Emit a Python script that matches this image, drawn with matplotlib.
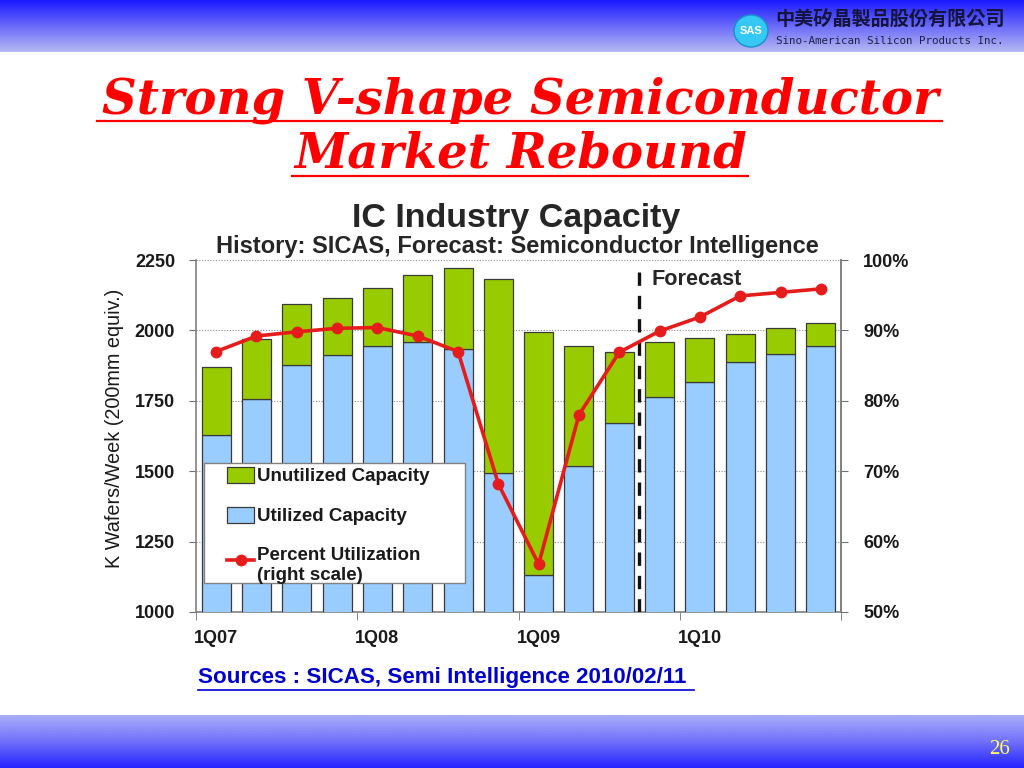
import numpy as np
import matplotlib
matplotlib.use("Agg")
import matplotlib.pyplot as plt
from matplotlib.patches import Patch, Ellipse, Rectangle
from matplotlib.lines import Line2D
from matplotlib.legend_handler import HandlerLine2D
from matplotlib.colors import LinearSegmentedColormap

# ---------------- data ----------------
quarters = ['1Q07', '2Q07', '3Q07', '4Q07', '1Q08', '2Q08', '3Q08', '4Q08',
            '1Q09', '2Q09', '3Q09', '4Q09', '1Q10', '2Q10', '3Q10', '4Q10']
utilized = [1629, 1757, 1878, 1912, 1945, 1960, 1935, 1493,
            1130, 1520, 1672, 1762, 1816, 1888, 1915, 1946]
unutilized = [240, 212, 215, 204, 204, 236, 285, 691,
              863, 426, 252, 196, 157, 100, 92, 81]
pct_util = [87.0, 89.2, 89.8, 90.3, 90.4, 89.2, 87.0, 68.2,
            56.8, 78.0, 86.9, 89.9, 91.9, 94.9, 95.4, 95.9]
left_ticks = [1000, 1250, 1500, 1750, 2000, 2250]
right_ticks = [50, 60, 70, 80, 90, 100]
xlabels_shown = ['1Q07', '1Q08', '1Q09', '1Q10']
forecast_start = 10.5

W, H = 1024, 768
fig = plt.figure(figsize=(W / 100, H / 100), dpi=100)
fig.patch.set_facecolor('white')

def fx(px):
    return px / W

def fy(py):
    return 1 - py / H

# ---------------- header / footer gradients ----------------
hdr = fig.add_axes([0, fy(52), 1, 52 / H], zorder=0)
cm_h = LinearSegmentedColormap.from_list('h', ['#1A1AFF', '#6A6AFA', '#B6B8F2'])
hdr.imshow(np.linspace(0, 1, 100).reshape(-1, 1), aspect='auto', cmap=cm_h,
           extent=[0, 1, 0, 1])
hdr.axis('off')

ftr = fig.add_axes([0, 0, 1, 53 / H], zorder=0)
cm_f = LinearSegmentedColormap.from_list('f', ['#AAADFA', '#7070FA', '#2424FF'])
ftr.imshow(np.linspace(0, 1, 100).reshape(-1, 1), aspect='auto', cmap=cm_f,
           extent=[0, 1, 0, 1])
ftr.axis('off')

# overlay for decorations (pixel coordinates)
deco = fig.add_axes([0, 0, 1, 1], zorder=1)
deco.set_xlim(0, W)
deco.set_ylim(H, 0)
deco.axis('off')
deco.patch.set_alpha(0)

# logo
deco.add_patch(Ellipse((751, 31), 34, 32, facecolor='#35C8F5', edgecolor='#1A90C8', lw=1))
deco.text(751, 31, 'SAS', color='white', fontsize=8, fontweight='bold',
          ha='center', va='center', family='Liberation Sans')
deco.text(775, 19, '中美矽晶製品股份有限公司', fontsize=13.8, color='#14143C',
          fontweight='bold', ha='left', va='center',
          family=['Noto Sans CJK TC', 'DejaVu Sans'])
deco.text(776, 41, 'Sino-American Silicon Products Inc.', fontsize=7.8, color='#202040',
          ha='left', va='center', family='DejaVu Sans Mono')

# main title
deco.text(520, 114, 'Strong V-shape Semiconductor', color='#FF0000', fontsize=34.7,
          fontweight='bold', fontstyle='italic', family='DejaVu Serif',
          ha='center', va='baseline')
deco.text(521, 168, 'Market Rebound', color='#FF0000', fontsize=34.7,
          fontweight='bold', fontstyle='italic', family='DejaVu Serif',
          ha='center', va='baseline')
deco.plot([97, 942], [121, 121], color='#FF0000', lw=1.6)
deco.plot([292, 748], [176, 176], color='#FF0000', lw=1.6)

# chart titles
deco.text(516, 219, 'IC Industry Capacity', fontsize=24.5, fontweight='bold',
          color='#262626', ha='center', va='center', family='Liberation Sans')
deco.text(517, 246, 'History: SICAS, Forecast: Semiconductor Intelligence', fontsize=17,
          fontweight='bold', color='#262626', ha='center', va='center',
          family='Liberation Sans')
deco.text(115, 428, 'K Wafers/Week (200mm equiv.)', fontsize=14.3, rotation=90,
          color='#1A1A1A', ha='center', va='center', family='Liberation Sans')

# sources
deco.text(198, 678, 'Sources : SICAS, Semi Intelligence 2010/02/11', fontsize=16.1,
          fontweight='bold', color='#0000CC', ha='left', va='center',
          family='Liberation Sans')
deco.plot([198, 694], [690, 690], color='#0000CC', lw=1.2)

# page number
deco.text(1000, 750, '26', fontsize=15, color='#FFFF55', ha='center', va='center',
          family='Liberation Serif')

# ---------------- chart ----------------
ax = fig.add_axes([fx(196), fy(612), fx(841) - fx(196), (612 - 260) / H], zorder=2)
ax.patch.set_facecolor('white')
x = np.arange(len(quarters))
green = '#99CC00'
blue = '#99CCFF'
edge = '#3A3A3A'
ax.bar(x, utilized, width=0.72, color=blue, edgecolor=edge, linewidth=0.9, zorder=3)
ax.bar(x, unutilized, width=0.72, bottom=utilized, color=green, edgecolor=edge,
       linewidth=0.9, zorder=3)
ax.set_xlim(-0.5, len(quarters) - 0.5)
ax.set_ylim(left_ticks[0], left_ticks[-1])
ax.set_yticks(left_ticks)
ax.set_yticklabels([str(v) for v in left_ticks])
ax.yaxis.grid(True, linestyle=(0, (1, 1.5)), color='#8C8C8C', linewidth=0.8, zorder=0)
ax.set_axisbelow(True)
idx = [quarters.index(q) for q in xlabels_shown]
ax.set_xticks(idx)
ax.set_xticklabels(xlabels_shown)
ax.set_xticks(np.arange(-0.5, len(quarters), 4), minor=True)
ax.tick_params(axis='x', which='major', length=0, pad=13)
ax.tick_params(axis='x', which='minor', length=6, direction='out', color='#707070')
ax.tick_params(axis='y', length=5, color='#707070', pad=10)
for lab in ax.get_xticklabels() + ax.get_yticklabels():
    lab.set_fontweight('bold')
    lab.set_fontsize(13)
    lab.set_family('Liberation Sans')
    lab.set_color('#1A1A1A')
ax.spines['top'].set_visible(False)
for s in ['left', 'bottom', 'right']:
    ax.spines[s].set_color('#808080')
    ax.spines[s].set_linewidth(1.2)

ax2 = ax.twinx()
ax2.set_ylim(right_ticks[0], right_ticks[-1])
ax2.set_yticks(right_ticks)
ax2.set_yticklabels([f'{v}%' for v in right_ticks])
ax2.tick_params(axis='y', length=5, color='#707070', pad=11)
for lab in ax2.get_yticklabels():
    lab.set_fontweight('bold')
    lab.set_fontsize(13)
    lab.set_family('Liberation Sans')
    lab.set_color('#1A1A1A')
for s in ['top', 'left', 'bottom']:
    ax2.spines[s].set_visible(False)
ax2.spines['right'].set_color('#808080')
ax2.spines['right'].set_linewidth(1.2)

red = '#E51C1C'
ax2.plot(x, pct_util, color=red, lw=2.6, marker='o', markersize=7.5,
         markerfacecolor=red, markeredgecolor=red, zorder=5)

# forecast divider
ax2.axvline(forecast_start, ymin=0, ymax=(612 - 269) / 352, color='#111111', lw=2.4,
            linestyle=(0, (4, 3)), zorder=4)
ax2.text(forecast_start + 0.3, 97.3, 'Forecast', fontsize=15.6, fontweight='bold',
         color='#262626', ha='left', va='center', family='Liberation Sans')

# legend box (frame drawn separately to get the wide side padding)
ax2.add_patch(Rectangle((8 / 645, 29 / 352), 261 / 645, 120 / 352, transform=ax2.transAxes,
                        facecolor='white', edgecolor='#808080', lw=1.0, zorder=9))


class ShiftedLine(HandlerLine2D):
    def create_artists(self, legend, orig_handle, xdescent, ydescent, width, height,
                       fontsize, trans):
        return super().create_artists(legend, orig_handle, xdescent, ydescent - 0.55 * fontsize,
                                      width, height, fontsize, trans)


handles = [Patch(facecolor=green, edgecolor=edge, linewidth=0.9),
           Patch(facecolor=blue, edgecolor=edge, linewidth=0.9),
           Line2D([], [], color=red, lw=2.6, marker='o', markersize=7.5)]
labels = ['Unutilized Capacity', 'Utilized Capacity', 'Percent Utilization\n(right scale)']
leg = ax2.legend(handles, labels, loc='upper left', bbox_to_anchor=(31 / 645, 145 / 352),
                 prop={'family': 'Liberation Sans', 'weight': 'bold', 'size': 13.5},
                 frameon=False, handlelength=1.45, handleheight=0.9, handletextpad=0.15,
                 labelspacing=1.17, borderpad=0.0, borderaxespad=0,
                 handler_map={Line2D: ShiftedLine()})
leg.set_zorder(10)
for t in leg.get_texts():
    t.set_color('#1A1A1A')

fig.savefig('out.png', dpi=100)
